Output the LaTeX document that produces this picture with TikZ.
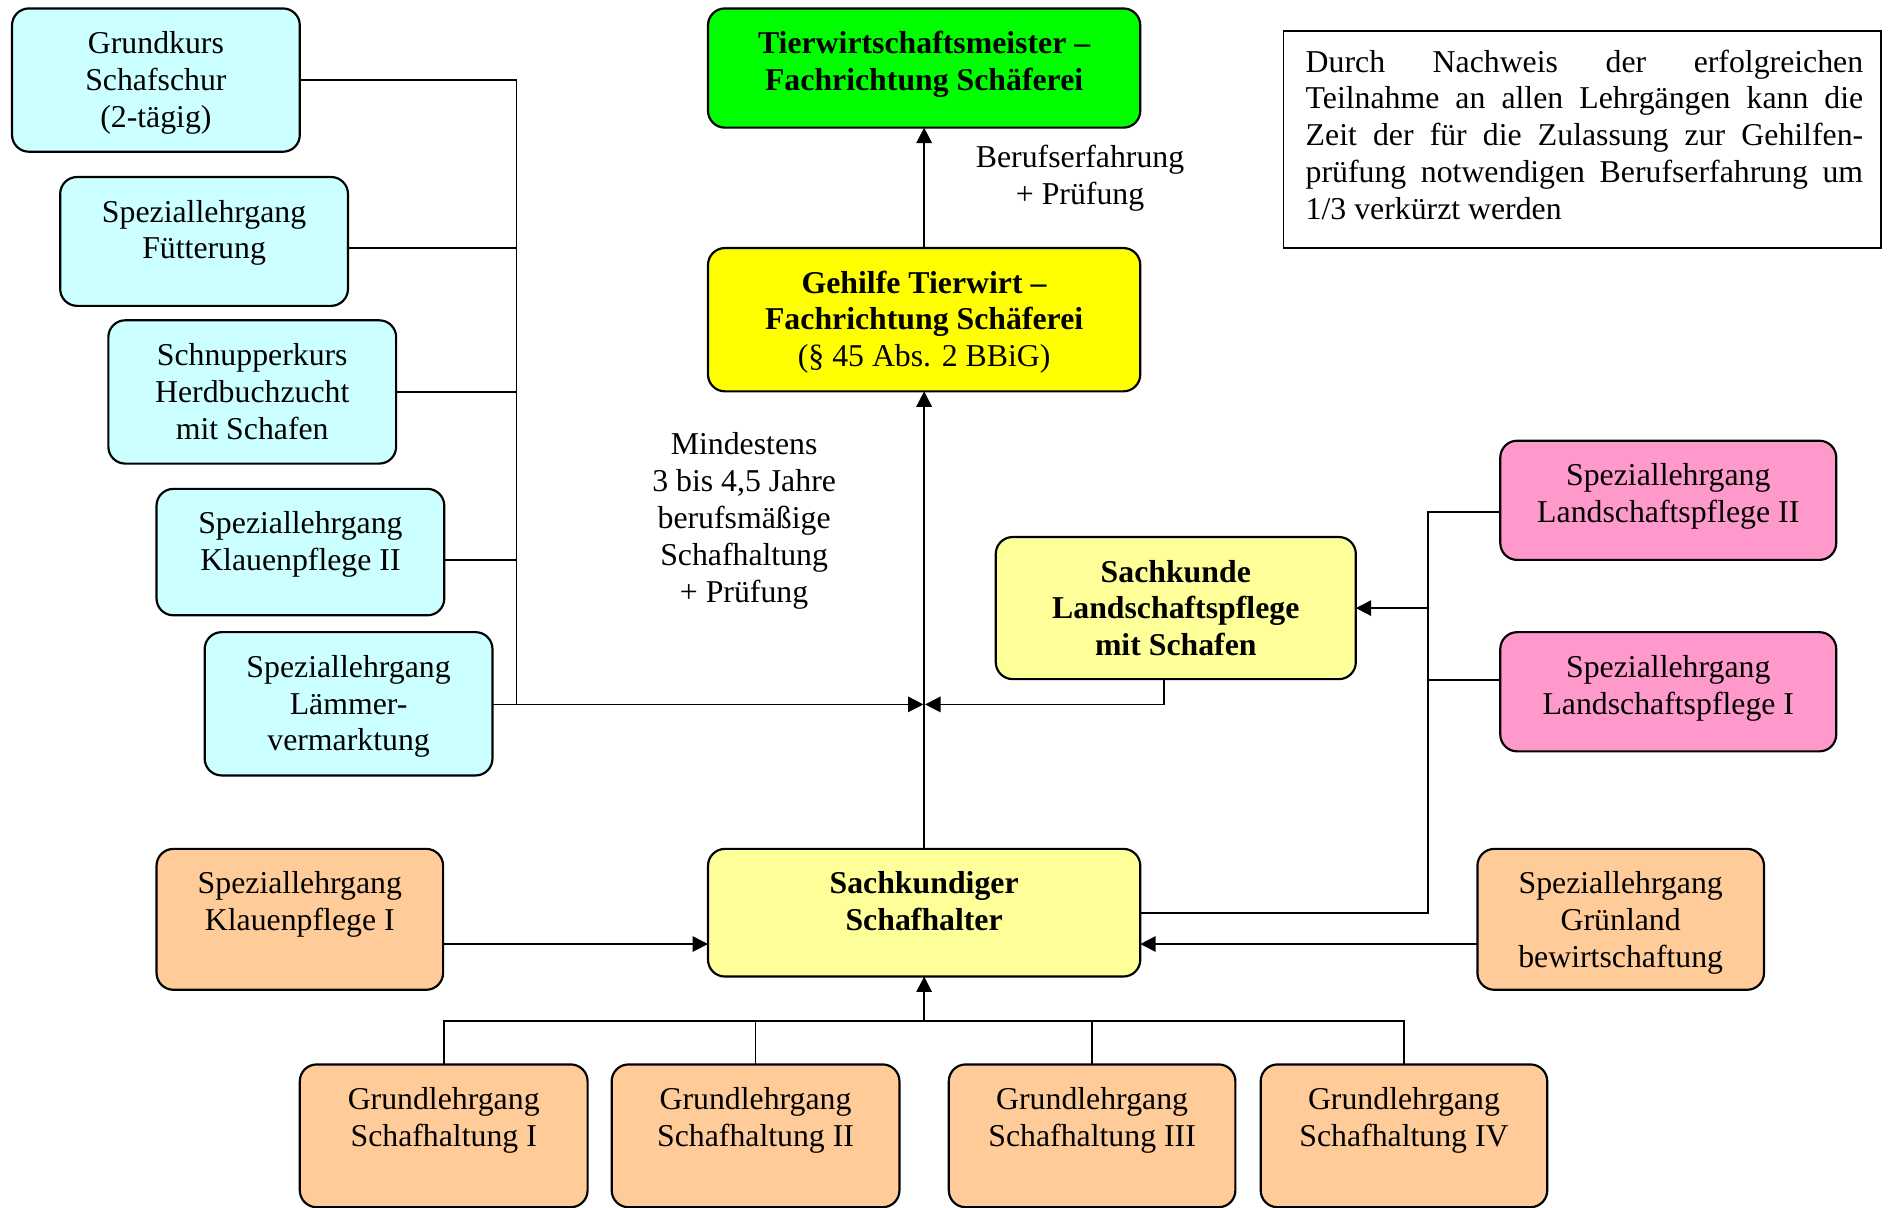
\documentclass[tikz,border=0pt]{standalone}
\usepackage{fontspec}
\setmainfont{Liberation Serif}
\usetikzlibrary{arrows.meta,fit,calc}
\definecolor{cyanbg}{HTML}{CCFFFF}
\definecolor{greenbg}{HTML}{00FF00}
\definecolor{yellowbg}{HTML}{FFFF00}
\definecolor{lightyellowbg}{HTML}{FFFF99}
\definecolor{pinkbg}{HTML}{FF99CC}
\definecolor{peachbg}{HTML}{FFCC99}
\begin{document}
\begin{tikzpicture}[x=0.5pt,y=-0.5pt,
  box/.style={draw=black, line width=0.9pt, rounded corners=7pt, inner sep=0pt, outer sep=0pt},
  cyanbox/.style={box, fill=cyanbg},
  greenbox/.style={box, fill=greenbg},
  yellowbox/.style={box, fill=yellowbg},
  lybox/.style={box, fill=lightyellowbg},
  pinkbox/.style={box, fill=pinkbg},
  peachbox/.style={box, fill=peachbg},
  notebox/.style={draw=black, line width=0.7pt, inner sep=0pt},
  txt/.style={inner sep=0pt, align=center, font=\fontsize{13.2}{15.3}\selectfont},
  conn/.style={draw=black, line width=0.75pt},
  arr/.style={-{Triangle[length=6.4pt,width=6.4pt]}}
]
\useasboundingbox (0,0) rectangle (1568,1003.2);

% left cyan boxes
\node[cyanbox, fit={(10,7) (249,126)}] (gk) {};
\node[txt, anchor=north] (gkt) at ([yshift=-7.8pt]gk.north) {\strut Grundkurs\\Schafschur\\(2-tägig)};
\node[cyanbox, fit={(50,147) (289,254)}] (fu) {};
\node[txt, anchor=north] (fut) at ([yshift=-7.8pt]fu.north) {\strut Speziallehrgang\\Fütterung};
\node[cyanbox, fit={(90,266) (329,385)}] (sn) {};
\node[txt, anchor=north] (snt) at ([yshift=-7.8pt]sn.north) {\strut Schnupperkurs\\Herdbuchzucht\\mit Schafen};
\node[cyanbox, fit={(130,406) (369,511)}] (k2) {};
\node[txt, anchor=north] (k2t) at ([yshift=-7.8pt]k2.north) {\strut Speziallehrgang\\Klauenpflege II};
\node[cyanbox, fit={(170,525) (409,644)}] (la) {};
\node[txt, anchor=north] (lat) at ([yshift=-7.8pt]la.north) {\strut Speziallehrgang\\Lämmer-\\vermarktung};

% central column
\node[greenbox, fit={(588,7) (947,106)}] (tm) {};
\node[txt, anchor=north, font=\fontsize{13.2}{15.3}\selectfont\bfseries] (tmt) at ([yshift=-7.8pt]tm.north) {\strut Tierwirtschaftsmeister –\\Fachrichtung Schäferei};
\node[yellowbox, fit={(588,206) (947,325)}] (geh) {};
\node[txt, anchor=north] (geht) at ([yshift=-7.8pt]geh.north) {\strut\textbf{Gehilfe Tierwirt –}\\\textbf{Fachrichtung Schäferei}\\(§ 45 Abs. 2 BBiG)};
\node[lybox, fit={(827,446) (1126,564)}] (sl) {};
\node[txt, anchor=north, font=\fontsize{13.2}{15.3}\selectfont\bfseries] (slt) at ([yshift=-7.8pt]sl.north) {\strut Sachkunde\\Landschaftspflege\\mit Schafen};
\node[lybox, fit={(588,705) (947,811)}] (skh) {};
\node[txt, anchor=north, font=\fontsize{13.2}{15.3}\selectfont\bfseries] (skht) at ([yshift=-7.8pt]skh.north) {\strut Sachkundiger\\Schafhalter};

% right pink boxes
\node[pinkbox, fit={(1246,366) (1525,465)}] (l2) {};
\node[txt, anchor=north] (l2t) at ([yshift=-7.8pt]l2.north) {\strut Speziallehrgang\\Landschaftspflege II};
\node[pinkbox, fit={(1246,525) (1525,624)}] (l1) {};
\node[txt, anchor=north] (l1t) at ([yshift=-7.8pt]l1.north) {\strut Speziallehrgang\\Landschaftspflege I};

% peach boxes
\node[peachbox, fit={(130,705) (368,822)}] (k1) {};
\node[txt, anchor=north] (k1t) at ([yshift=-7.8pt]k1.north) {\strut Speziallehrgang\\Klauenpflege I};
\node[peachbox, fit={(1227,705) (1465,822)}] (gr) {};
\node[txt, anchor=north] (grt) at ([yshift=-7.8pt]gr.north) {\strut Speziallehrgang\\Grünland\\bewirtschaftung};
\node[peachbox, fit={(249,884) (488,1002.6)}] (g1) {};
\node[txt, anchor=north] (g1t) at ([yshift=-7.8pt]g1.north) {\strut Grundlehrgang\\Schafhaltung I};
\node[peachbox, fit={(508,884) (747,1002.6)}] (g2) {};
\node[txt, anchor=north] (g2t) at ([yshift=-7.8pt]g2.north) {\strut Grundlehrgang\\Schafhaltung II};
\node[peachbox, fit={(788,884) (1026,1002.6)}] (g3) {};
\node[txt, anchor=north] (g3t) at ([yshift=-7.8pt]g3.north) {\strut Grundlehrgang\\Schafhaltung III};
\node[peachbox, fit={(1047,884) (1285,1002.6)}] (g4) {};
\node[txt, anchor=north] (g4t) at ([yshift=-7.8pt]g4.north) {\strut Grundlehrgang\\Schafhaltung IV};

% note box
\node[notebox, fit={(1066,26) (1562,206)}] (note) {};
\node[txt, anchor=north west, align=left] (notet) at (1084,38) {\strut\makebox[231.5pt][s]{Durch Nachweis der erfolgreichen}\\\makebox[231.5pt][s]{Teilnahme an allen Lehrgängen kann die}\\\makebox[231.5pt][s]{Zeit der für die Zulassung zur Gehilfen-}\\\makebox[231.5pt][s]{prüfung notwendigen Berufserfahrung um}\\1/3 verkürzt werden};

% free labels
\node[txt, anchor=north] (beruf) at (897,117) {\strut Berufserfahrung\\+ Prüfung};
\node[txt, anchor=north] (mind) at (618,356) {\strut Mindestens\\3 bis 4,5 Jahre\\berufsmäßige\\Schafhaltung\\+ Prüfung};

% coordinates
\coordinate (lbus) at (429,585);
\coordinate (jc) at (767.5,585);
\coordinate (rb) at (1186,505);
\coordinate (bb) at (767.5,848);

% left bus
\draw[conn] (gk.east) -| (lbus);
\path ($(fu.north east)+(0,59)$) coordinate (fuo);
\draw[conn] (fuo) -- (fuo -| lbus);
\draw[conn] (sn.east) -- (sn.east -| lbus);
\path ($(k2.north east)+(0,59)$) coordinate (k2o);
\draw[conn] (k2o) -- (k2o -| lbus);
\path ($(la.north east)+(0,60)$) coordinate (lao);
\draw[conn,arr] (lao) -- ($(lao -| jc)+(-0.6,0)$);

% from Sachkunde to junction
\draw[conn,arr] ($(sl.south)+(-10,0)$) |- ($(jc)+(0.8,0)$);

% main vertical arrows
\draw[conn,arr] (skh.north) -- (geh.south);
\draw[conn,arr] (geh.north) -- (tm.south);

% side arrows into Sachkundiger
\path ($(k1.north east)+(0,79)$) coordinate (k1o);
\draw[conn,arr] (k1o) -- (k1o -| skh.west);
\path ($(gr.north west)+(0,79)$) coordinate (gro);
\draw[conn,arr] (gro) -- (gro -| skh.east);

% right bus
\path ($(skh.north east)+(0,53)$) coordinate (skho);
\path ($(l2.north west)+(0,59)$) coordinate (l2o);
\path ($(l1.north west)+(0,40)$) coordinate (l1o);
\draw[conn] (skho) -| (rb |- l2o) -- (l2o);
\draw[conn] (l1o) -- (l1o -| rb);
\draw[conn,arr] (rb) -- (rb -| sl.east);

% bottom bus
\draw[conn] (g1.north) -- (g1.north |- bb) -- (g4.north |- bb) -- (g4.north);
\draw[conn] (g2.north) -- (g2.north |- bb);
\draw[conn] (g3.north) -- (g3.north |- bb);
\draw[conn,arr] (bb) -- (skh.south);
\end{tikzpicture}
\end{document}
